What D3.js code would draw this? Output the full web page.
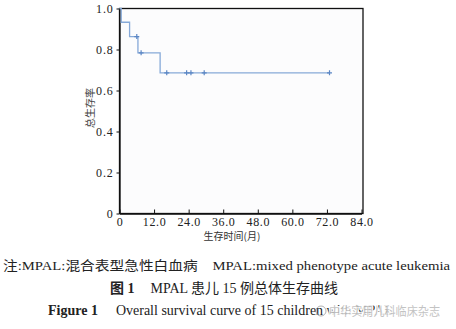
<!DOCTYPE html>
<html><head><meta charset="utf-8">
<script src="https://cdn.jsdelivr.net/npm/d3@7"></script>
<style>
html,body{margin:0;padding:0;background:#fff;}
svg{display:block;}
</style></head>
<body>
<svg id="chart" width="456" height="329"></svg>
<script>
// Kaplan-Meier step points: [month, survival]
const stepTimes = [0, 0.6, 3.5, 6.4, 14.1, 73.0];
const stepSurv  = [1.0, 0.933, 0.863, 0.784, 0.686, 0.686];
// censored observations
const censorTimes = [6.0, 7.5, 16.4, 23.3, 24.8, 29.4, 72.9];
const censorSurv  = [0.863, 0.784, 0.686, 0.686, 0.686, 0.686, 0.686];
const xTicks = [0, 12, 24, 36, 48, 60, 72, 84];
const yTicks = [0, 0.2, 0.4, 0.6, 0.8, 1.0];
const xTitle = "生存时间(月)";
const yTitle = "总生存率";
const note = "注:MPAL:混合表型急性白血病　MPAL:mixed phenotype acute leukemia";
const captionCn = ["图 1", "MPAL 患儿 15 例总体生存曲线"];
const captionEn = ["Figure 1", "Overall survival curve of 15 children with MPAL"];
const watermark = "中华实用儿科临床杂志";

const svg = d3.select("#chart");
const L = 119.5, R = 363, T = 8.5, B = 213.5;
const x = d3.scaleLinear().domain([0, 84]).range([L, 361.5]);
const y = d3.scaleLinear().domain([0, 1]).range([B, T]);

svg.append("rect").attr("x", L).attr("y", T).attr("width", R - L).attr("height", B - T)
  .attr("fill", "#fcfcfd").attr("stroke", "#111").attr("stroke-width", 1.3);

const serif = "'Liberation Serif','DejaVu Serif',serif";
const cjk = "'Noto Sans CJK SC','Noto Sans',sans-serif";

// x axis (ticks inward)
const xAxis = d3.axisBottom(x).tickValues(xTicks).tickSizeInner(-4).tickSizeOuter(0)
  .tickPadding(4).tickFormat(d => d === 0 ? "0" : d3.format(".1f")(d));
const gx = svg.append("g").attr("transform", `translate(0,${B})`).call(xAxis);
gx.select(".domain").attr("stroke", "#111").attr("stroke-width", 1.3);
gx.selectAll(".tick line").attr("stroke", "#111").attr("stroke-width", 1);
gx.selectAll("text").attr("font-family", serif).attr("font-size", 12).attr("fill", "#222")
  .attr("letter-spacing", 0.6);

// y axis (ticks outward)
const yAxis = d3.axisLeft(y).tickValues(yTicks).tickSizeInner(3).tickSizeOuter(0)
  .tickPadding(3).tickFormat(d => d === 0 ? "0" : d3.format(".1f")(d));
const gy = svg.append("g").attr("transform", `translate(${L},0)`).call(yAxis);
gy.select(".domain").attr("stroke", "#111").attr("stroke-width", 1.3);
gy.selectAll(".tick line").attr("stroke", "#111").attr("stroke-width", 1);
gy.selectAll("text").attr("font-family", serif).attr("font-size", 12).attr("fill", "#222")
  .attr("letter-spacing", 0.8);

// titles
svg.append("text").attr("x", 232).attr("y", 240).attr("text-anchor", "middle")
  .attr("font-family", cjk).attr("font-size", 10).attr("fill", "#333").text(xTitle);
svg.append("text").attr("transform", "translate(94,108) rotate(-90)").attr("text-anchor", "middle")
  .attr("font-family", cjk).attr("font-size", 10).attr("fill", "#444").text(yTitle);

// survival curve
const pts = stepTimes.map((t, i) => [t, stepSurv[i]]);
const line = d3.line().x(d => x(d[0])).y(d => y(d[1])).curve(d3.curveStepAfter);
svg.append("path").datum(pts).attr("d", line).attr("fill", "none")
  .attr("stroke", "#86a9d8").attr("stroke-width", 1.3);

// censor marks
const cg = svg.append("g");
censorTimes.forEach((t, i) => {
  const cx = x(t), cy = y(censorSurv[i]);
  cg.append("path").attr("d", `M${cx - 2.5},${cy}H${cx + 2.5}M${cx},${cy - 2.5}V${cy + 2.5}`)
    .attr("stroke", "#5b86c4").attr("stroke-width", 1.2);
});

// captions
svg.append("text").attr("x", 3).attr("y", 270).attr("font-family", serif + ",'Noto Sans CJK SC'")
  .attr("font-size", 13).attr("fill", "#222")
  .attr("textLength", 447).attr("lengthAdjust", "spacingAndGlyphs").text(note);

const c2 = svg.append("text").attr("x", 110).attr("y", 293)
  .attr("font-family", serif + ",'Noto Sans CJK SC'").attr("font-size", 14).attr("fill", "#222");
c2.append("tspan").attr("font-weight", "bold").text(captionCn[0]);
c2.append("tspan").attr("dx", 16).text(captionCn[1]);

const c3 = svg.append("text").attr("x", 48).attr("y", 315)
  .attr("font-family", serif).attr("font-size", 14).attr("fill", "#222");
c3.append("tspan").attr("font-weight", "bold").text(captionEn[0]);
c3.append("tspan").attr("dx", 18).text(captionEn[1]);

// watermark overlay
const wm = svg.append("g").attr("opacity", 0.9);
wm.append("circle").attr("cx", 321).attr("cy", 311).attr("r", 5).attr("fill", "none")
  .attr("stroke", "#aaa").attr("stroke-width", 1);
wm.append("text").attr("x", 329).attr("y", 315.5).attr("font-family", cjk).attr("font-size", 12)
  .attr("fill", "#bdbdbd").attr("stroke", "#fff").attr("stroke-width", 2.5).attr("paint-order", "stroke")
  .attr("textLength", 111).attr("lengthAdjust", "spacingAndGlyphs").text(watermark);
</script>
</body></html>
